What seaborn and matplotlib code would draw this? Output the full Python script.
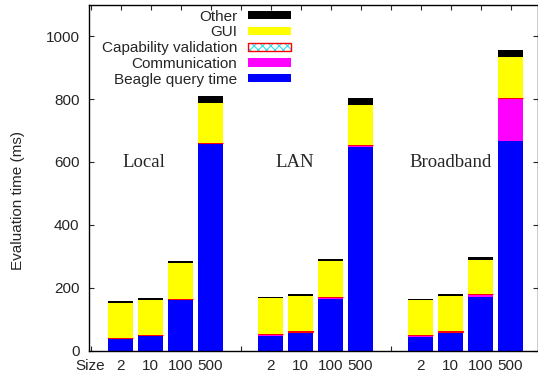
import numpy as np
import matplotlib
matplotlib.use("Agg")
from matplotlib import pyplot as plt
from matplotlib.patches import Patch
import seaborn as sns

# x positions of the bars (three groups of four sizes)
positions = [1, 2, 3, 4, 6, 7, 8, 9, 11, 12, 13, 14]
tick_pos = list(range(0, 15))
tick_labels = ["Size", "2", "10", "100", "500", "",
               "2", "10", "100", "500", "",
               "2", "10", "100", "500"]
groups = ["Local", "LAN", "Broadband"]
group_x = [1.77, 6.8, 12.0]

# values in ms, order: Local 2..500, LAN 2..500, Broadband 2..500
beagle = [40, 51, 165, 661, 48, 55, 165, 649, 44, 57, 172, 668]
communication = [0, 0, 0, 0, 6, 6, 6, 6, 7, 4, 7, 136]
capability = [0.5] * 12
gui = [111, 109, 114, 126, 112, 111, 113, 126, 109, 111, 110, 129]
other = [6, 6, 7, 21, 5, 7, 8, 22, 5, 7, 9, 23]

sns.set_style("ticks")
plt.rcParams["font.family"] = ["Liberation Sans", "DejaVu Sans"]
plt.rcParams["hatch.linewidth"] = 0.8

fig = plt.figure(figsize=(5.38, 3.79), dpi=100)
ax = fig.add_axes([89.3 / 538, (379 - 350.7) / 379, (537.5 - 89.3) / 538, (350.7 - 4.7) / 379])

w = 0.83
bottom = np.zeros(len(positions))
ax.bar(positions, beagle, width=w, bottom=bottom, color="#0000ff", linewidth=0)
bottom += beagle
ax.bar(positions, communication, width=w, bottom=bottom, color="#ff00ff", linewidth=0)
bottom += communication
ax.bar(positions, capability, width=w, bottom=bottom, facecolor="none", edgecolor="#ff0000", linewidth=0.8)
bottom += capability
ax.bar(positions, gui, width=w, bottom=bottom, color="#ffff00", linewidth=0)
bottom += gui
ax.bar(positions, other, width=w, bottom=bottom, color="black", linewidth=0)

for name, gx in zip(groups, group_x):
    ax.text(gx, 597, name, family=["Liberation Serif", "DejaVu Serif"], fontsize=13.5,
            ha="center", va="center")

ax.set_xlim(-0.04, 14.9)
ax.set_ylim(0, 1100)
ax.set_xticks(tick_pos)
ax.set_xticklabels(tick_labels)
ax.set_yticks([0, 200, 400, 600, 800, 1000])
ax.tick_params(axis="both", direction="in", length=3.6, width=0.8, labelsize=11,
               top=True, right=True)
ax.tick_params(axis="y", pad=7)
ax.tick_params(axis="x", pad=6)
for s in ax.spines.values():
    s.set_linewidth(1.0)
    s.set_color("black")

fig.text(18 / 538, 1 - 200 / 379, "Evaluation time (ms)", rotation=90,
         ha="center", va="center", fontsize=11)

handles = [
    Patch(facecolor="black", linewidth=0),
    Patch(facecolor="#ffff00", linewidth=0),
    (Patch(facecolor="white", edgecolor="#33ddee", hatch="xxxx", linewidth=0),
     Patch(facecolor="none", edgecolor="#ff0000", linewidth=1.0)),
    Patch(facecolor="#ff00ff", linewidth=0),
    Patch(facecolor="#0000ff", linewidth=0),
]
labels = ["Other", "GUI", "Capability validation", "Communication", "Beagle query time"]
fig.legend(handles, labels, loc="upper right", bbox_to_anchor=(291 / 538, 1 - 9.7 / 379),
           bbox_transform=fig.transFigure, frameon=False, markerfirst=False,
           fontsize=11, handlelength=2.8, handleheight=0.46, handletextpad=0.72,
           labelspacing=0.115, borderpad=0, borderaxespad=0)

plt.savefig("out.png", dpi=100)
